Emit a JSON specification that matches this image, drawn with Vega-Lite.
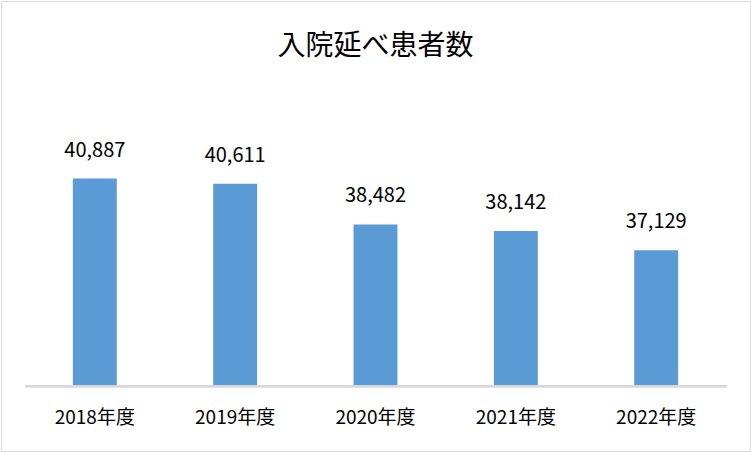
{
  "$schema": "https://vega.github.io/schema/vega-lite/v6.json",
  "width": 749,
  "height": 450,
  "padding": 1,
  "autosize": {"type": "none"},
  "background": "#ffffff",
  "config": {
    "view": {"stroke": "#d9d9d9", "strokeWidth": 1},
    "font": "Noto Sans CJK JP"
  },
  "title": {
    "text": "入院延べ患者数",
    "anchor": "middle",
    "frame": "group",
    "orient": "top",
    "baseline": "alphabetic",
    "offset": -82,
    "fontSize": 28,
    "fontWeight": "normal",
    "color": "#000000",
    "font": "Noto Sans CJK JP"
  },
  "data": {
    "values": [
      {"year": "2018年度", "value": 40887},
      {"year": "2019年度", "value": 40611},
      {"year": "2020年度", "value": 38482},
      {"year": "2021年度", "value": 38142},
      {"year": "2022年度", "value": 37129}
    ]
  },
  "layer": [
    {
      "mark": {"type": "bar", "color": "#5b9bd5"},
      "encoding": {
        "x": {
          "field": "year",
          "type": "nominal",
          "sort": null,
          "scale": {"paddingInner": 0.687, "paddingOuter": 0.512},
          "axis": {
            "title": null,
            "domain": false,
            "ticks": false,
            "grid": false,
            "labelAngle": 0,
            "labelFontSize": 19,
            "labelColor": "#000000",
            "labelFont": "Noto Sans CJK JP",
            "labelBaseline": "middle",
            "labelPadding": 0,
            "offset": -34
          }
        },
        "y": {
          "field": "value",
          "type": "quantitative",
          "scale": {"domain": [26607, 50198], "zero": false, "nice": false},
          "axis": null
        },
        "y2": {"datum": 30000}
      }
    },
    {
      "mark": {"type": "text", "baseline": "alphabetic", "dy": -22, "fontSize": 20, "color": "#000000", "font": "Noto Sans CJK JP"},
      "encoding": {
        "x": {"field": "year", "type": "nominal", "sort": null},
        "y": {"field": "value", "type": "quantitative"},
        "text": {"field": "value", "type": "quantitative", "format": ","}
      }
    },
    {
      "mark": {"type": "rule", "color": "#d9d9d9", "strokeWidth": 2},
      "encoding": {
        "x": {"datum": "2018年度", "bandPosition": -1.09},
        "x2": {"datum": "2022年度", "bandPosition": 2.1},
        "y": {"datum": 30000}
      }
    }
  ]
}
